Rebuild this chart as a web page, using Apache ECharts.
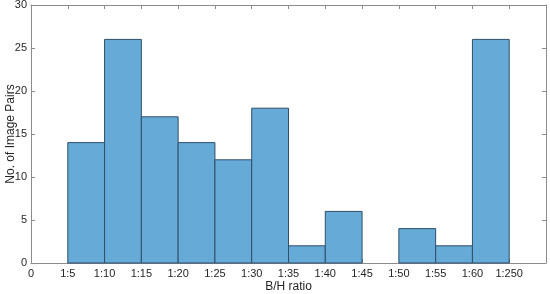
<!DOCTYPE html>
<html>
<head>
<meta charset="utf-8">
<script src="https://cdn.jsdelivr.net/npm/echarts@6/dist/echarts.min.js"></script>
<style>
  html, body { margin: 0; padding: 0; background: #fff; }
  #chart { width: 550px; height: 294px; }
</style>
</head>
<body>
<div id="chart"></div>
<script>
// bin edge labels (one per tick, last tick unlabeled)
const edgeLabels = ['0', '1:5', '1:10', '1:15', '1:20', '1:25', '1:30', '1:35',
  '1:40', '1:45', '1:50', '1:55', '1:60', '1:250', ''];
// counts per bin, bin i spans edge i to edge i+1
const binCounts = [0, 14, 26, 17, 14, 12, 18, 2, 6, 0, 4, 2, 26, 0];

const binData = binCounts.map((v, i) => [i, i + 1, v]);

const myChart = echarts.init(document.getElementById('chart'));

const axisGray = '#8c8c8c';
const labelColor = '#262626';
const font = 'Liberation Sans, Arial, sans-serif';
const tick = { show: true, inside: true, length: 4, lineStyle: { color: axisGray } };

let option = {
  animation: false,
  textStyle: { fontFamily: font },
  grid: { left: 31, right: 4, top: 5, bottom: 31, outerBoundsMode: 'none', containLabel: false },
  xAxis: [
    {
      type: 'value',
      min: 0,
      max: edgeLabels.length - 1,
      interval: 1,
      name: 'B/H ratio',
      nameLocation: 'middle',
      nameGap: 18,
      nameMoveOverlap: false,
      nameTextStyle: { color: labelColor, fontSize: 12 },
      axisLine: { show: true, onZero: false, lineStyle: { color: axisGray } },
      axisTick: tick,
      axisLabel: {
        color: labelColor, fontSize: 11, margin: 5,
        formatter: v => edgeLabels[v] || ''
      },
      splitLine: { show: false }
    },
    {
      type: 'value',
      position: 'top',
      min: 0,
      max: edgeLabels.length - 1,
      interval: 1,
      axisLine: { show: true, onZero: false, lineStyle: { color: axisGray } },
      axisTick: tick,
      axisLabel: { show: false },
      splitLine: { show: false }
    }
  ],
  yAxis: [
    {
      type: 'value',
      min: 0,
      max: 30,
      interval: 5,
      name: 'No. of Image Pairs',
      nameLocation: 'middle',
      nameGap: 14,
      nameMoveOverlap: false,
      nameTextStyle: { color: labelColor, fontSize: 12 },
      axisLine: { show: true, onZero: false, lineStyle: { color: axisGray } },
      axisTick: tick,
      axisLabel: { color: labelColor, fontSize: 11, margin: 4 },
      splitLine: { show: false }
    },
    {
      type: 'value',
      position: 'right',
      min: 0,
      max: 30,
      interval: 5,
      axisLine: { show: true, onZero: false, lineStyle: { color: axisGray } },
      axisTick: tick,
      axisLabel: { show: false },
      splitLine: { show: false }
    }
  ],
  series: [
    {
      type: 'custom',
      data: binData,
      encode: { x: [0, 1], y: 2 },
      renderItem: function (params, api) {
        const v = api.value(2);
        if (!v) return;
        const p0 = api.coord([api.value(0), v]);
        const p1 = api.coord([api.value(1), 0]);
        return {
          type: 'rect',
          shape: { x: p0[0], y: p0[1], width: p1[0] - p0[0], height: p1[1] - p0[1] },
          style: { fill: '#66aad7', stroke: '#2f4f6a', lineWidth: 1 }
        };
      }
    },
    {
      // empty series so the top and right frame axes are drawn
      type: 'line',
      xAxisIndex: 1,
      yAxisIndex: 1,
      data: []
    }
  ]
};

myChart.setOption(option);
</script>
</body>
</html>
